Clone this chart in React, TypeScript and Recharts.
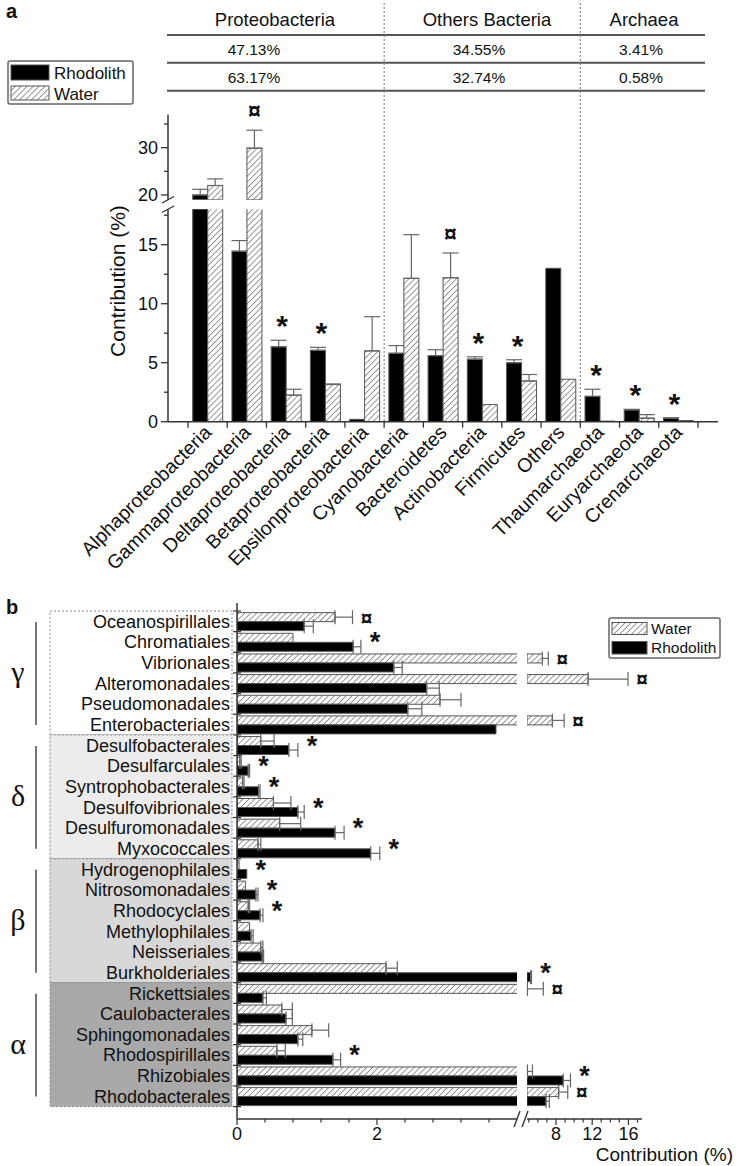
import React from 'react';
import { ComposedChart, Bar, XAxis, YAxis, ErrorBar, Scatter } from 'recharts';

const FONT = '"Liberation Sans", Arial, Helvetica, sans-serif';
const SERIF = '"Liberation Serif", "DejaVu Serif", serif';
const INK = '#111';
const AXIS = '#333';

// ---- panel a: phylum level ----
const phyla = [
  'Alphaproteobacteria', 'Gammaproteobacteria', 'Deltaproteobacteria', 'Betaproteobacteria',
  'Epsilonproteobacteria', 'Cyanobacteria', 'Bacteroidetes', 'Actinobacteria', 'Firmicutes',
  'Others', 'Thaumarchaeota', 'Euryarchaeota', 'Crenarchaeota',
];
const phylaRhodolith = [20.0, 14.45, 6.35, 6.05, 0.2, 5.8, 5.6, 5.3, 5.0, 13.0, 2.15, 1.0, 0.3];
const phylaRhodolithErr = [1.2, 0.9, 0.55, 0.25, 0, 0.65, 0.5, 0.2, 0.25, 0, 0.6, 0.05, 0.03];
const phylaWater = [22.0, 29.9, 2.25, 3.15, 6.0, 12.15, 12.2, 1.45, 3.45, 3.6, 0.05, 0.3, 0.1];
const phylaWaterErr = [1.4, 3.8, 0.5, 0.05, 2.9, 3.7, 2.1, 0, 0.55, 0, 0, 0.3, 0];
const phylaMarkRhodolith = ['', '', '*', '*', '', '', '', '*', '*', '', '*', '*', '*'];
const phylaMarkWater = ['', '¤', '', '', '', '', '¤', '', '', '', '', '', ''];

const tableHeads = ['Proteobacteria', 'Others Bacteria', 'Archaea'];
const tableRow1 = ['47.13%', '34.55%', '3.41%'];
const tableRow2 = ['63.17%', '32.74%', '0.58%'];

// ---- panel b: order level ----
const orders = [
  'Oceanospirillales', 'Chromatiales', 'Vibrionales', 'Alteromonadales', 'Pseudomonadales', 'Enterobacteriales',
  'Desulfobacterales', 'Desulfarculales', 'Syntrophobacterales', 'Desulfovibrionales', 'Desulfuromonadales', 'Myxococcales',
  'Hydrogenophilales', 'Nitrosomonadales', 'Rhodocyclales', 'Methylophilales', 'Neisseriales', 'Burkholderiales',
  'Rickettsiales', 'Caulobacterales', 'Sphingomonadales', 'Rhodospirillales', 'Rhizobiales', 'Rhodobacterales',
];
const classes = ['γ', 'δ', 'β', 'α'];
const ordersWater = [1.4, 0.8, 6.5, 11.55, 2.9, 7.6, 0.34, 0.04, 0.08, 0.52, 0.61, 0.3, 0.03, 0.12, 0.16, 0.18, 0.34, 2.13, 4.85, 0.64, 1.07, 0.57, 4.85, 8.3];
const ordersWaterErr = [0.25, 0, 0.65, 4.4, 0.3, 1.3, 0.19, 0.02, 0.02, 0.25, 0.3, 0.04, 0, 0, 0.02, 0, 0.03, 0.16, 1.75, 0.15, 0.24, 0.12, 0.55, 1.0];
const ordersRhodolith = [0.96, 1.66, 2.24, 2.71, 2.44, 3.7, 0.74, 0.16, 0.31, 0.87, 1.4, 1.91, 0.14, 0.27, 0.33, 0.2, 0.36, 5.2, 0.37, 0.7, 0.87, 1.37, 8.8, 6.9];
const ordersRhodolithErr = [0.13, 0.11, 0.12, 0.18, 0.2, 0, 0.13, 0.02, 0.02, 0.09, 0.13, 0.13, 0, 0.03, 0.04, 0.03, 0.02, 0.1, 0.05, 0.09, 0.07, 0.11, 0.8, 0.37];
const ordersMark = ['¤', '*', '¤', '¤', '', '¤', '*', '*', '*', '*', '*', '*', '*', '*', '*', '', '', '*', '¤', '', '', '*', '*', '¤'];

// ---- geometry ----
const A_LEFT = 168, A_RIGHT = 718, A_PAD = 20;
const A_BAND = (A_RIGHT - A_LEFT - 2 * A_PAD) / phyla.length;
const A_BASE = 421.7, A_LOW_TOP = 209.3, A_UP_TOP = 114.6, A_UP_BOTTOM = 199.7;
const LOW_MAX = 18, UP_MIN = 19, UP_MAX = 37;
const LOW_Y = 200, LOW_H = 400;
const UP_Y = 90, UP_H = 125;

const B_TOP = 603, B_BOTTOM = 1119, B_ZERO = 237, B_BREAK = 517, B_RSTART = 527, B_REND = 642;
const B_PAD_TOP = 8, B_PAD_BOTTOM = 12.4;
const B_BAND = (B_BOTTOM - B_TOP - B_PAD_TOP - B_PAD_BOTTOM) / orders.length;
const L_MAX = 4, R_MIN = 4.8, R_MAX = 17.5;

const pair = (e: number) => (e > 0 ? [0, e] : null);

const lowerA = phyla.map((name, i) => {
  const r = phylaRhodolith[i], w = phylaWater[i];
  const rTop = r + phylaRhodolithErr[i], wTop = w + phylaWaterErr[i];
  return {
    name, r, w,
    rErr: rTop <= LOW_MAX ? pair(phylaRhodolithErr[i]) : null,
    wErr: wTop <= LOW_MAX ? pair(phylaWaterErr[i]) : null,
    rMark: phylaMarkRhodolith[i] && rTop <= LOW_MAX ? rTop : null,
    wMark: phylaMarkWater[i] && wTop <= LOW_MAX ? wTop : null,
    rSym: phylaMarkRhodolith[i], wSym: phylaMarkWater[i],
  };
});

const upperA = phyla.map((name, i) => {
  const r = phylaRhodolith[i], w = phylaWater[i];
  const rTop = r + phylaRhodolithErr[i], wTop = w + phylaWaterErr[i];
  return {
    name,
    r: r >= UP_MIN ? r : null,
    w: w >= UP_MIN ? w : null,
    rErr: r >= UP_MIN ? pair(phylaRhodolithErr[i]) : null,
    wErr: w >= UP_MIN ? pair(phylaWaterErr[i]) : null,
    rMark: phylaMarkRhodolith[i] && rTop > LOW_MAX ? rTop : null,
    wMark: phylaMarkWater[i] && wTop > LOW_MAX ? wTop : null,
    rSym: phylaMarkRhodolith[i], wSym: phylaMarkWater[i],
  };
});

const endOf = (i: number) => Math.max(ordersWater[i] + ordersWaterErr[i], ordersRhodolith[i] + ordersRhodolithErr[i]);

const leftB = orders.map((name, i) => {
  const w = ordersWater[i], r = ordersRhodolith[i];
  return {
    name, w, r,
    wErr: w + ordersWaterErr[i] <= L_MAX ? pair(ordersWaterErr[i]) : null,
    rErr: r + ordersRhodolithErr[i] <= L_MAX ? pair(ordersRhodolithErr[i]) : null,
    markX: ordersMark[i] && endOf(i) <= L_MAX ? endOf(i) : null,
    sym: ordersMark[i],
  };
});

const rightB = orders.map((name, i) => {
  const w = ordersWater[i], r = ordersRhodolith[i];
  const ends = [w >= R_MIN ? w + ordersWaterErr[i] : 0, r >= R_MIN ? r + ordersRhodolithErr[i] : 0];
  return {
    name,
    w: w >= R_MIN ? w : null,
    r: r >= R_MIN ? r : null,
    wErr: w >= R_MIN ? pair(ordersWaterErr[i]) : null,
    rErr: r >= R_MIN ? pair(ordersRhodolithErr[i]) : null,
    markX: ordersMark[i] && endOf(i) > L_MAX ? Math.max(...ends) : null,
    sym: ordersMark[i],
  };
});

const hatch = (id: string) => (
  <defs>
    <pattern id={id} patternUnits="userSpaceOnUse" width={4.2} height={4.2} patternTransform="rotate(45)">
      <rect width={4.2} height={4.2} fill="#fff" />
      <line x1={0} y1={0} x2={0} y2={4.2} stroke="#777" strokeWidth={1.5} />
    </pattern>
  </defs>
);

// ---- ticks ----
const PhylumTick = (p: any) => {
  const { x, y, payload, index } = p;
  const h = A_BAND / 2;
  const lx = x + 5, ly = y + 12;
  return (
    <g>
      <line x1={x - h} x2={x - h} y1={y} y2={y + 6} stroke={AXIS} strokeWidth={1.3} />
      {index === phyla.length - 1 && <line x1={x + h} x2={x + h} y1={y} y2={y + 6} stroke={AXIS} strokeWidth={1.3} />}
      <text x={lx} y={ly} transform={`rotate(-45 ${lx} ${ly})`} textAnchor="end" fontSize={19.5} fontFamily={FONT} fill={INK}>
        {payload.value}
      </text>
    </g>
  );
};

const leftValueTick = (labelled: number[]) => (p: any) => {
  const { x, y, payload } = p;
  const major = labelled.includes(payload.value);
  return (
    <g>
      <line x1={x - (major ? 7 : 4)} x2={x} y1={y} y2={y} stroke={AXIS} strokeWidth={1.3} />
      {major && (
        <text x={x - 10} y={y} dy="0.36em" textAnchor="end" fontSize={18} fontFamily={FONT} fill={INK}>{payload.value}</text>
      )}
    </g>
  );
};

const bottomValueTick = (labelled: number[]) => (p: any) => {
  const { x, y, payload } = p;
  const major = labelled.includes(payload.value);
  return (
    <g>
      <line x1={x} x2={x} y1={y} y2={y + (major ? 6 : 3.5)} stroke={AXIS} strokeWidth={1.2} />
      {major && (
        <text x={x} y={y + 21} textAnchor="middle" fontSize={18} fontFamily={FONT} fill={INK}>{payload.value}</text>
      )}
    </g>
  );
};

const OrderTick = (p: any) => {
  const { x, y, payload, index } = p;
  const h = B_BAND / 2;
  return (
    <g>
      <line x1={x - 4} x2={x + 4} y1={y - h} y2={y - h} stroke={AXIS} strokeWidth={1.2} />
      {index === orders.length - 1 && <line x1={x - 4} x2={x + 4} y1={y + h} y2={y + h} stroke={AXIS} strokeWidth={1.2} />}
      <text x={x - 7} y={y} dy="0.36em" textAnchor="end" fontSize={18} fontFamily={FONT} fill={INK}>{payload.value}</text>
    </g>
  );
};

// significance marks
const symbolText = (s: string, x: number, y: number, scale: number) =>
  s === '*' ? (
    <text x={x} y={y + 15 * scale} textAnchor="middle" fontSize={30 * scale} fontWeight="bold" fontFamily={FONT} fill={INK}>*</text>
  ) : (
    <text x={x} y={y + 8 * scale} textAnchor="middle" fontSize={23 * scale} fontWeight="bold" fontFamily={FONT} fill={INK}>¤</text>
  );

const markA = (symKey: 'rSym' | 'wSym', dx: number) => (p: any) => {
  const s = p.payload ? p.payload[symKey] : '';
  if (!s || p.cx == null || p.cy == null || !isFinite(p.cy)) return <g />;
  return symbolText(s, p.cx + dx, p.cy - 19, 1);
};

const markB = (p: any) => {
  const s = p.payload ? p.payload.sym : '';
  if (!s || p.cx == null || p.cy == null || !isFinite(p.cx)) return <g />;
  return symbolText(s, p.cx + 14, p.cy - 4, 0.9);
};

const axisLine = { stroke: AXIS, strokeWidth: 1.5 };

const App: React.FC = () => {
  const groupTop = B_TOP + B_PAD_TOP;
  const groupH = 6 * B_BAND;
  const groupFill = ['#ffffff', '#ececec', '#d8d8d8', '#a9a9a9'];
  const colX = [A_LEFT + A_PAD + 5 * A_BAND, A_LEFT + A_PAD + 10 * A_BAND];
  const headX = [275, 487, 644];
  const pctX = [254, 479, 641];

  return (
    <div style={{ position: 'absolute', left: 0, top: 0, width: 736, height: 1166, background: '#fff', fontFamily: FONT }}>
      <svg width={736} height={1166} style={{ position: 'absolute', left: 0, top: 0 }}>
        <defs>
          <pattern id="hatchLegend" patternUnits="userSpaceOnUse" width={4.2} height={4.2} patternTransform="rotate(45)">
            <rect width={4.2} height={4.2} fill="#fff" />
            <line x1={0} y1={0} x2={0} y2={4.2} stroke="#777" strokeWidth={1.5} />
          </pattern>
        </defs>
        <text x={6} y={18} fontSize={20} fontWeight="bold" fill={INK}>a</text>
        <text x={6} y={614} fontSize={20} fontWeight="bold" fill={INK}>b</text>

        {/* table */}
        {[35, 62.7, 90.7].map((y) => (
          <line key={y} x1={167} x2={705} y1={y} y2={y} stroke="#555" strokeWidth={2} />
        ))}
        {colX.map((x) => (
          <line key={x} x1={x} x2={x} y1={3} y2={A_BASE} stroke="#888" strokeWidth={1.2} strokeDasharray="2 2" />
        ))}
        {tableHeads.map((t, i) => (
          <text key={t} x={headX[i]} y={26} textAnchor="middle" fontSize={18.5} fill={INK}>{t}</text>
        ))}
        {tableRow1.map((t, i) => (
          <text key={t} x={pctX[i]} y={55} textAnchor="middle" fontSize={15.5} fill={INK}>{t}</text>
        ))}
        {tableRow2.map((t, i) => (
          <text key={t} x={pctX[i]} y={83} textAnchor="middle" fontSize={15.5} fill={INK}>{t}</text>
        ))}

        {/* legend a */}
        <rect x={8} y={61} width={125} height={43} fill="#fff" stroke="#666" strokeWidth={1.5} rx={2} />
        <rect x={11} y={65} width={38} height={15} fill="#000" stroke="#555" />
        <rect x={11} y={86} width={38} height={14} fill="url(#hatchLegend)" stroke="#555" />
        <text x={54} y={79} fontSize={17} fill={INK}>Rhodolith</text>
        <text x={54} y={100} fontSize={17} fill={INK}>Water</text>

        {/* y title a */}
        <text x={125} y={281} transform="rotate(-90 125 281)" textAnchor="middle" fontSize={21} fill={INK}>Contribution (%)</text>

        {/* axis break a */}
        <line x1={162} y1={203} x2={174} y2={196.5} stroke={AXIS} strokeWidth={1.4} />
        <line x1={162} y1={212.5} x2={174} y2={206} stroke={AXIS} strokeWidth={1.4} />

        {/* class boxes b */}
        {classes.map((c, i) => {
          const top = groupTop + i * groupH;
          return (
            <g key={c}>
              <rect x={50} y={top} width={182} height={groupH} fill={groupFill[i]} stroke="#888" strokeWidth={1} strokeDasharray="2 2" />
              <line x1={36} x2={36} y1={top + 11} y2={top + groupH - 10} stroke="#777" strokeWidth={2} />
              <text x={18} y={top + groupH / 2} dy="0.3em" textAnchor="middle" fontSize={30} fontFamily={SERIF} fill={INK}>{c}</text>
            </g>
          );
        })}

        {/* legend b */}
        <rect x={609} y={618} width={111} height={40} fill="#fff" stroke="#666" strokeWidth={1.5} rx={2} />
        <rect x={612} y={622.5} width={35} height={12} fill="url(#hatchLegend)" stroke="#555" />
        <rect x={612} y={641.5} width={35} height={12.5} fill="#000" stroke="#555" />
        <text x={651} y={634} fontSize={15.5} fill={INK}>Water</text>
        <text x={651} y={653} fontSize={15.5} fill={INK}>Rhodolith</text>

        {/* axis break b */}
        <line x1={B_BREAK - 3} y1={B_BOTTOM + 8} x2={B_BREAK + 3} y2={B_BOTTOM - 8} stroke={AXIS} strokeWidth={1.4} />
        <line x1={B_BREAK + 5} y1={B_BOTTOM + 8} x2={B_BREAK + 11} y2={B_BOTTOM - 8} stroke={AXIS} strokeWidth={1.4} />
        <text x={733} y={1161} textAnchor="end" fontSize={19} fill={INK}>Contribution (%)</text>
      </svg>

      {/* panel a, lower segment */}
      <div style={{ position: 'absolute', left: 0, top: LOW_Y }}>
        <ComposedChart width={736} height={LOW_H} data={lowerA} barCategoryGap="12%" barGap={0}
          margin={{ top: A_LOW_TOP - LOW_Y, right: 736 - A_RIGHT, left: 0, bottom: 0 }}>
          {hatch('hatchA1')}
          <XAxis dataKey="name" type="category" interval={0} height={LOW_H - (A_LOW_TOP - LOW_Y) - (A_BASE - A_LOW_TOP)}
            padding={{ left: A_PAD, right: A_PAD }} axisLine={axisLine} tickLine={false} tickSize={0} tickMargin={0} tick={PhylumTick} />
          <YAxis type="number" domain={[0, LOW_MAX]} allowDataOverflow width={A_LEFT} interval={0}
            ticks={[0, 2.5, 5, 7.5, 10, 12.5, 15, 17.5]} axisLine={axisLine} tickLine={false} tickSize={0} tickMargin={0}
            tick={leftValueTick([0, 5, 10, 15])} />
          <YAxis yAxisId="mark" type="number" domain={[0, LOW_MAX]} hide />
          <Bar dataKey="r" fill="#000" stroke="#555" strokeWidth={1} isAnimationActive={false}>
            <ErrorBar dataKey="rErr" width={8} stroke="#666" strokeWidth={1.2} direction="y" isAnimationActive={false} />
          </Bar>
          <Bar dataKey="w" fill="url(#hatchA1)" stroke="#555" strokeWidth={1} isAnimationActive={false}>
            <ErrorBar dataKey="wErr" width={8} stroke="#666" strokeWidth={1.2} direction="y" isAnimationActive={false} />
          </Bar>
          <Scatter yAxisId="mark" dataKey="rMark" shape={markA('rSym', -A_BAND * 0.1)} isAnimationActive={false} />
          <Scatter yAxisId="mark" dataKey="wMark" shape={markA('wSym', A_BAND * 0.19)} isAnimationActive={false} />
        </ComposedChart>
      </div>

      {/* panel a, upper segment */}
      <div style={{ position: 'absolute', left: 0, top: UP_Y }}>
        <ComposedChart width={736} height={UP_H} data={upperA} barCategoryGap="12%" barGap={0}
          margin={{ top: A_UP_TOP - UP_Y, right: 736 - A_RIGHT, left: 0, bottom: UP_Y + UP_H - A_UP_BOTTOM }}>
          {hatch('hatchA2')}
          <XAxis dataKey="name" type="category" hide padding={{ left: A_PAD, right: A_PAD }} />
          <YAxis type="number" domain={[UP_MIN, UP_MAX]} allowDataOverflow width={A_LEFT} interval={0}
            ticks={[20, 25, 30, 35]} axisLine={axisLine} tickLine={false} tickSize={0} tickMargin={0}
            tick={leftValueTick([20, 30])} />
          <YAxis yAxisId="mark" type="number" domain={[UP_MIN, UP_MAX]} hide />
          <Bar dataKey="r" fill="#000" stroke="#555" strokeWidth={1} isAnimationActive={false}>
            <ErrorBar dataKey="rErr" width={8} stroke="#666" strokeWidth={1.2} direction="y" isAnimationActive={false} />
          </Bar>
          <Bar dataKey="w" fill="url(#hatchA2)" stroke="#555" strokeWidth={1} isAnimationActive={false}>
            <ErrorBar dataKey="wErr" width={8} stroke="#666" strokeWidth={1.2} direction="y" isAnimationActive={false} />
          </Bar>
          <Scatter yAxisId="mark" dataKey="rMark" shape={markA('rSym', -A_BAND * 0.1)} isAnimationActive={false} />
          <Scatter yAxisId="mark" dataKey="wMark" shape={markA('wSym', A_BAND * 0.19)} isAnimationActive={false} />
        </ComposedChart>
      </div>

      {/* panel b, left segment */}
      <div style={{ position: 'absolute', left: 0, top: 590 }}>
        <ComposedChart layout="vertical" width={560} height={576} data={leftB} barCategoryGap="8%" barGap={0}
          margin={{ top: B_TOP - 590, right: 560 - B_BREAK, left: 0, bottom: 0 }}>
          {hatch('hatchB1')}
          <XAxis type="number" domain={[0, L_MAX]} allowDataOverflow height={576 - (B_TOP - 590) - (B_BOTTOM - B_TOP)}
            ticks={[0, 0.4, 0.8, 1.2, 1.6, 2, 2.4, 2.8, 3.2, 3.6]} interval={0} axisLine={axisLine} tickLine={false}
            tickSize={0} tickMargin={0} tick={bottomValueTick([0, 2])} />
          <XAxis xAxisId="mark" type="number" domain={[0, L_MAX]} hide />
          <YAxis type="category" dataKey="name" width={B_ZERO} interval={0} padding={{ top: B_PAD_TOP, bottom: B_PAD_BOTTOM }}
            axisLine={axisLine} tickLine={false} tickSize={0} tickMargin={0} tick={OrderTick} />
          <Bar dataKey="w" fill="url(#hatchB1)" stroke="#555" strokeWidth={1} isAnimationActive={false}>
            <ErrorBar dataKey="wErr" width={7} stroke="#666" strokeWidth={1.2} direction="x" isAnimationActive={false} />
          </Bar>
          <Bar dataKey="r" fill="#000" stroke="#555" strokeWidth={1} isAnimationActive={false}>
            <ErrorBar dataKey="rErr" width={7} stroke="#666" strokeWidth={1.2} direction="x" isAnimationActive={false} />
          </Bar>
          <Scatter xAxisId="mark" dataKey="markX" shape={markB} isAnimationActive={false} />
        </ComposedChart>
      </div>

      {/* panel b, right segment */}
      <div style={{ position: 'absolute', left: 520, top: 590 }}>
        <ComposedChart layout="vertical" width={216} height={576} data={rightB} barCategoryGap="8%" barGap={0}
          margin={{ top: B_TOP - 590, right: 736 - B_REND, left: B_RSTART - 520, bottom: 0 }}>
          {hatch('hatchB2')}
          <XAxis type="number" domain={[R_MIN, R_MAX]} allowDataOverflow height={576 - (B_TOP - 590) - (B_BOTTOM - B_TOP)}
            ticks={[5, 6, 7, 8, 9, 10, 11, 12, 13, 14, 15, 16, 17]} interval={0} axisLine={axisLine} tickLine={false}
            tickSize={0} tickMargin={0} tick={bottomValueTick([8, 12, 16])} />
          <XAxis xAxisId="mark" type="number" domain={[R_MIN, R_MAX]} hide />
          <YAxis type="category" dataKey="name" hide padding={{ top: B_PAD_TOP, bottom: B_PAD_BOTTOM }} />
          <Bar dataKey="w" fill="url(#hatchB2)" stroke="#555" strokeWidth={1} isAnimationActive={false}>
            <ErrorBar dataKey="wErr" width={7} stroke="#666" strokeWidth={1.2} direction="x" isAnimationActive={false} />
          </Bar>
          <Bar dataKey="r" fill="#000" stroke="#555" strokeWidth={1} isAnimationActive={false}>
            <ErrorBar dataKey="rErr" width={7} stroke="#666" strokeWidth={1.2} direction="x" isAnimationActive={false} />
          </Bar>
          <Scatter xAxisId="mark" dataKey="markX" shape={markB} isAnimationActive={false} />
        </ComposedChart>
      </div>
    </div>
  );
};

export default App;
